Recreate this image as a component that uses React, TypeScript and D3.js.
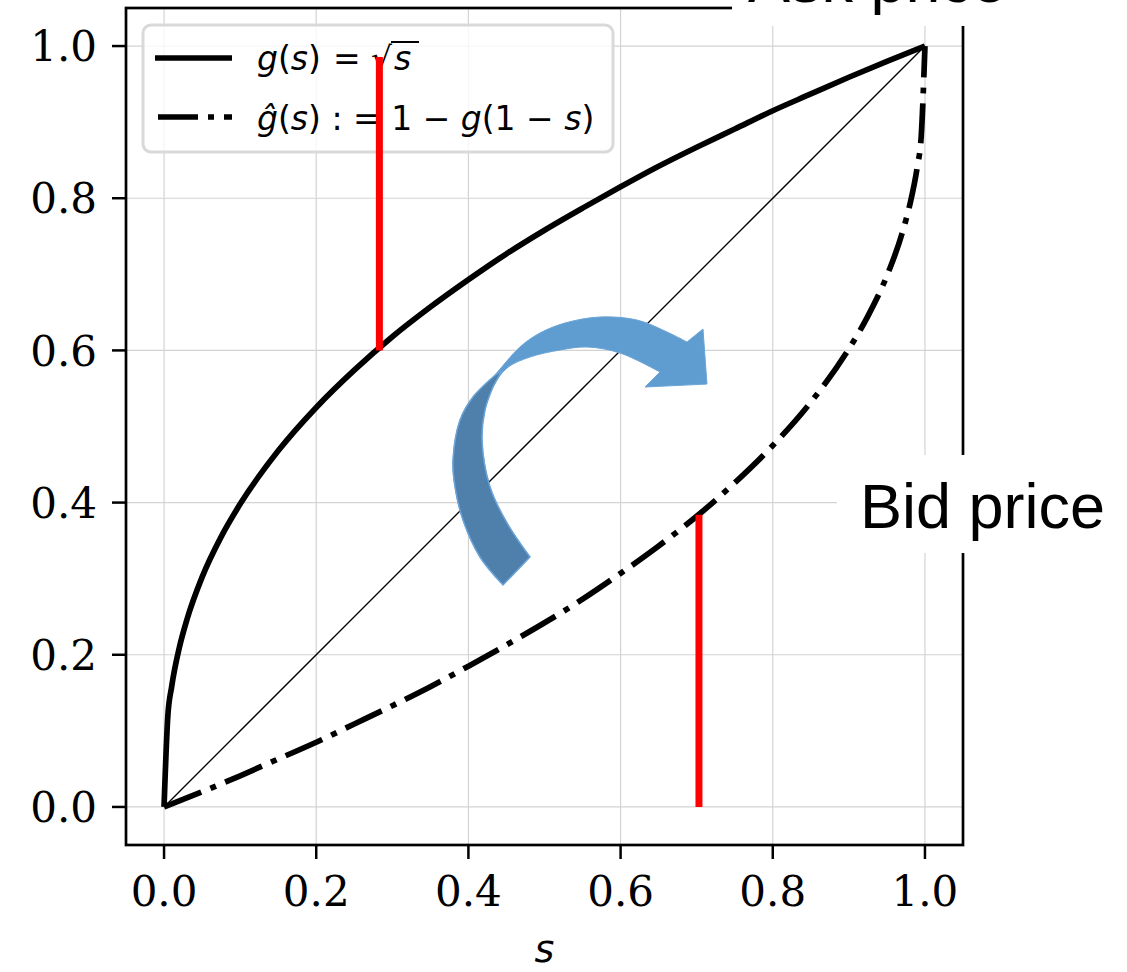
import React from 'react';
import * as d3 from 'd3';

// ---------- data ----------
const xTicks = [0, 0.2, 0.4, 0.6, 0.8, 1.0];
const yTicks = [0, 0.2, 0.4, 0.6, 0.8, 1.0];

// g(s) curve (solid)
const gS = [0, 0.005, 0.01, 0.02, 0.03, 0.05, 0.075, 0.1, 0.15, 0.2, 0.25, 0.3, 0.35, 0.4, 0.45, 0.5, 0.55, 0.6, 0.65, 0.7, 0.75, 0.8, 0.85, 0.9, 0.95, 1.0];
const gV = [0, 0.12, 0.158, 0.209, 0.246, 0.302, 0.355, 0.398, 0.468, 0.525, 0.574, 0.618, 0.657, 0.693, 0.727, 0.758, 0.787, 0.815, 0.842, 0.867, 0.891, 0.915, 0.937, 0.959, 0.98, 1.0];

// g-hat(s) curve (dash-dot)
const hS = [0, 0.05, 0.1, 0.15, 0.2, 0.25, 0.3, 0.35, 0.4, 0.45, 0.5, 0.55, 0.6, 0.65, 0.7, 0.75, 0.8, 0.85, 0.9, 0.925, 0.95, 0.97, 0.98, 0.99, 0.995, 1.0];
const hV = [0, 0.02, 0.041, 0.063, 0.085, 0.109, 0.133, 0.158, 0.185, 0.213, 0.242, 0.273, 0.307, 0.343, 0.382, 0.426, 0.475, 0.532, 0.602, 0.645, 0.698, 0.754, 0.791, 0.842, 0.88, 1.0];

// diagonal reference
const diagS = [0, 1];
const diagV = [0, 1];

// red markers
const redS = [0.283, 0.703];
const redLow = [0.6, 0];
const redHigh = [0.9855, 0.384];

// curved arrow outline (data units)
const arrowOuterS = [0.4455, 0.4152, 0.3929, 0.3824, 0.3798, 0.3890, 0.4060, 0.4323, 0.4678, 0.4941, 0.5269, 0.5729, 0.6216, 0.6610, 0.6873];
const arrowOuterV = [0.2917, 0.3285, 0.3771, 0.4205, 0.4560, 0.5085, 0.5388, 0.5650, 0.6045, 0.6229, 0.6360, 0.6439, 0.6399, 0.6242, 0.6110];
const arrowHeadS = [0.7083, 0.7135, 0.6321];
const arrowHeadV = [0.6281, 0.5558, 0.5519];
const arrowInnerS = [0.6518, 0.5992, 0.5558, 0.5204, 0.4809, 0.4507, 0.4323, 0.4218, 0.4179, 0.4284, 0.4507, 0.4809];
const arrowInnerV = [0.5716, 0.5966, 0.6045, 0.6005, 0.5913, 0.5769, 0.5519, 0.5217, 0.4823, 0.4205, 0.3732, 0.3285];
const arrowDarkJoinS = [0.4442];
const arrowDarkJoinV = [0.5742];

const zip = (a: number[], b: number[]) => a.map((v, i) => [v, b[i]] as [number, number]);

export default function App() {
  const W = 1127, H = 972;
  const x = d3.scaleLinear().domain([-0.05, 1.05]).range([126, 963]);
  const y = d3.scaleLinear().domain([-0.05, 1.05]).range([845, 8]);
  const fmt = d3.format('.1f');

  const mono = d3.line<[number, number]>().x(d => x(d[0])).y(d => y(d[1])).curve(d3.curveMonotoneX);
  const lin = d3.line<[number, number]>().x(d => x(d[0])).y(d => y(d[1]));
  const cr = d3.line<[number, number]>().x(d => x(d[0])).y(d => y(d[1])).curve(d3.curveCatmullRom.alpha(0.5));

  const gPath = mono(zip(gS, gV)) || '';
  const hPath = mono(zip(hS, hV)) || '';
  const dPath = lin(zip(diagS, diagV)) || '';

  const outer = cr(zip(arrowOuterS, arrowOuterV)) || '';
  const head = zip(arrowHeadS, arrowHeadV).map(p => `L${x(p[0])},${y(p[1])}`).join('');
  const inner = (cr(zip(arrowInnerS, arrowInnerV)) || '').replace(/^M/, 'L');
  const arrowPath = outer + head + inner + 'Z';

  const darkOuter = cr(zip(arrowOuterS.slice(0, 8).concat(arrowDarkJoinS), arrowOuterV.slice(0, 8).concat(arrowDarkJoinV))) || '';
  const darkInner = (cr(zip(arrowInnerS.slice(6), arrowInnerV.slice(6))) || '').replace(/^M/, 'L');
  const darkPath = darkOuter + darkInner + 'Z';

  const serif = 'DejaVu Serif';
  const sans = 'DejaVu Sans';
  const lw = 5.7;
  const dashDot = '40,10,6,10';

  return (
    <div style={{ position: 'absolute', left: 0, top: 0 }}>
      <svg width={W} height={H} viewBox={`0 0 ${W} ${H}`} style={{ display: 'block', background: '#fff' }}>
        <rect x={0} y={0} width={W} height={H} fill="#fff" />
        {/* grid */}
        <g stroke="#d3d3d3" strokeWidth={1.2}>
          {xTicks.map(t => <line key={'gx' + t} x1={x(t)} x2={x(t)} y1={y.range()[0]} y2={y.range()[1]} />)}
          {yTicks.map(t => <line key={'gy' + t} y1={y(t)} y2={y(t)} x1={x.range()[0]} x2={x.range()[1]} />)}
        </g>
        {/* diagonal */}
        <path d={dPath} fill="none" stroke="#000" strokeWidth={1.3} />
        {/* curves */}
        <path d={gPath} fill="none" stroke="#000" strokeWidth={lw} strokeLinejoin="round" />
        <path d={hPath} fill="none" stroke="#000" strokeWidth={lw} strokeDasharray={dashDot} />

        {/* spines */}
        <rect x={x.range()[0]} y={y.range()[1]} width={x.range()[1] - x.range()[0]} height={y.range()[0] - y.range()[1]} fill="none" stroke="#000" strokeWidth={2.7} />

        {/* ticks */}
        <g stroke="#000" strokeWidth={2.5}>
          {xTicks.map(t => <line key={'tx' + t} x1={x(t)} x2={x(t)} y1={845} y2={859} />)}
          {yTicks.map(t => <line key={'ty' + t} y1={y(t)} y2={y(t)} x1={112} x2={126} />)}
        </g>
        <g fontFamily={serif} fontSize={42} fill="#000">
          {xTicks.map(t => <text key={'lx' + t} x={x(t)} y={906} textAnchor="middle">{fmt(t)}</text>)}
          {yTicks.map(t => <text key={'ly' + t} x={97} y={y(t)} dy="0.36em" textAnchor="end">{fmt(t)}</text>)}
        </g>
        <text x={(x(0) + x(1)) / 2} y={962} textAnchor="middle" fontFamily={sans} fontSize={38} fontStyle="italic">s</text>

        {/* legend */}
        <rect x={143} y={25} width={470} height={127} rx={8} ry={8} fill="#fff" fillOpacity={0.8} stroke="#d9d9d9" strokeWidth={3} />
        <line x1={155} x2={232} y1={58} y2={58} stroke="#000" strokeWidth={lw} />
        <line x1={158} x2={232} y1={117} y2={117} stroke="#000" strokeWidth={lw} strokeDasharray={dashDot} />
        <text x={257} y={70} fontFamily={sans} fontSize={33} style={{ whiteSpace: 'pre' }}>
          <tspan fontStyle="italic">g</tspan>
          <tspan>(</tspan>
          <tspan fontStyle="italic">s</tspan>
          <tspan>)</tspan>
          <tspan x={333}>=</tspan>
          <tspan x={371}>√</tspan>
          <tspan x={394} fontStyle="italic">s</tspan>
        </text>
        <line x1={391} x2={419} y1={42} y2={42} stroke="#000" strokeWidth={2} />
        <text x={257} y={130} fontFamily={sans} fontSize={33} style={{ whiteSpace: 'pre' }}>
          <tspan fontStyle="italic">{'g\u0302'}</tspan>
          <tspan>(</tspan>
          <tspan fontStyle="italic">s</tspan>
          <tspan>{') : = 1 − '}</tspan>
          <tspan fontStyle="italic">g</tspan>
          <tspan>{'(1 − '}</tspan>
          <tspan fontStyle="italic">s</tspan>
          <tspan>)</tspan>
        </text>

        {/* red markers */}
        {redS.map((s, i) => (
          <line key={'r' + i} x1={x(s)} x2={x(s)} y1={y(redLow[i])} y2={y(redHigh[i])} stroke="#ff0000" strokeWidth={7} />
        ))}

        {/* curved arrow */}
        <path d={arrowPath} fill="#5f9dd1" stroke="#6aa4d8" strokeWidth={1} />
        <path d={darkPath} fill="#4f7fab" stroke="#6aa4d8" strokeWidth={1.5} />

        {/* labels */}
        <rect x={732} y={0} width={W - 732} height={26} fill="#fff" />
        <text x={748} y={2} fontFamily="Liberation Sans, Arial" fontSize={63} fill="#000">Ask price</text>
        <rect x={837} y={455} width={W - 837} height={98} fill="#fff" />
        <text x={860} y={528} fontFamily="Liberation Sans, Arial" fontSize={63} fill="#000">Bid price</text>
      </svg>
    </div>
  );
}
